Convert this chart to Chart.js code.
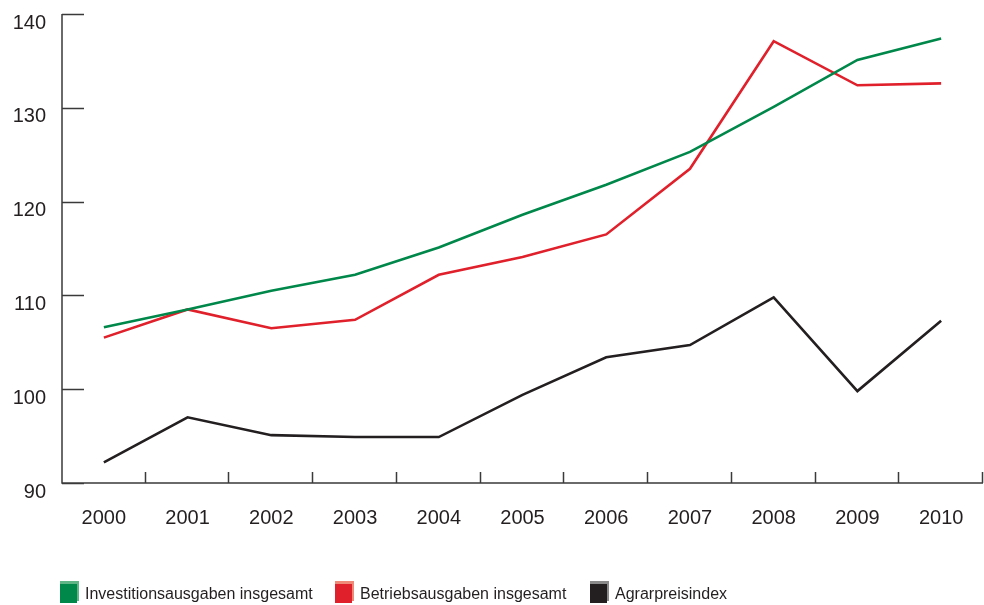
<!DOCTYPE html>
<html>
<head>
<meta charset="utf-8">
<script src="https://cdn.jsdelivr.net/npm/chart.js@4.4.1/dist/chart.umd.min.js"></script>
<style>
  html, body { margin: 0; padding: 0; background: #fff; }
  #wrap { width: 984px; height: 605px; }
</style>
</head>
<body>
<div id="wrap"><canvas id="chart" width="984" height="605"></canvas></div>
<script>
const years = ["2000", "2001", "2002", "2003", "2004", "2005", "2006", "2007", "2008", "2009", "2010"];
const investitionen = [106.6, 108.5, 110.5, 112.2, 115.1, 118.6, 121.8, 125.3, 130.1, 135.1, 137.4];
const betrieb = [105.5, 108.5, 106.5, 107.4, 112.2, 114.1, 116.5, 123.5, 137.1, 132.4, 132.6];
const agrarpreis = [92.2, 97.0, 95.1, 94.9, 94.9, 99.4, 103.4, 104.7, 109.8, 99.8, 107.3];
const yTicks = [90, 100, 110, 120, 130, 140];

const axisColor = "#3a3a3a";
const fontFamily = "'Liberation Sans', Arial, sans-serif";

// inward tick marks + axis lines
const axisPlugin = {
  id: "axisMarks",
  afterDraw(chart) {
    const { ctx, chartArea, scales } = chart;
    ctx.save();
    ctx.strokeStyle = axisColor;
    ctx.lineWidth = 1.5;
    ctx.beginPath();
    ctx.moveTo(chartArea.left, chartArea.top);
    ctx.lineTo(chartArea.left, chartArea.bottom);
    ctx.lineTo(chartArea.right, chartArea.bottom);
    yTicks.forEach((v) => {
      const y = Math.round(scales.y.getPixelForValue(v)) + 0.5;
      ctx.moveTo(chartArea.left, y);
      ctx.lineTo(chartArea.left + 22, y);
    });
    const step = (chartArea.right - chartArea.left) / years.length;
    for (let i = 1; i <= years.length; i++) {
      const x = Math.round(chartArea.left + step * i) - 0.5;
      ctx.moveTo(x, chartArea.bottom);
      ctx.lineTo(x, chartArea.bottom - 11);
    }
    ctx.stroke();
    ctx.restore();
  },
};

// legend at the bottom, boxes with a light top edge
const legendPlugin = {
  id: "bottomLegend",
  afterDraw(chart) {
    const { ctx } = chart;
    const starts = [60, 335, 590];
    ctx.save();
    ctx.font = "16px " + fontFamily;
    ctx.textBaseline = "middle";
    chart.data.datasets.forEach((ds, i) => {
      const x = starts[i];
      ctx.fillStyle = ds.borderColor;
      ctx.fillRect(x, 583, 17, 20);
      ctx.fillStyle = ds.edgeColor;
      ctx.fillRect(x, 581, 19, 3);
      ctx.fillRect(x + 17, 581, 2, 20);
      ctx.fillStyle = "#231f20";
      ctx.fillText(ds.label, x + 25, 595);
    });
    ctx.restore();
  },
};

new Chart(document.getElementById("chart"), {
  type: "line",
  data: {
    labels: years,
    datasets: [
      { label: "Investitionsausgaben insgesamt", data: investitionen, borderColor: "#00874a", edgeColor: "#5fb585" },
      { label: "Betriebsausgaben insgesamt", data: betrieb, borderColor: "#e0202b", edgeColor: "#ef8a78" },
      { label: "Agrarpreisindex", data: agrarpreis, borderColor: "#231f20", edgeColor: "#8a8a8a" },
    ].map((d) => ({ ...d, borderWidth: 2.6, pointRadius: 0, tension: 0, fill: false })),
  },
  options: {
    responsive: false,
    animation: false,
    layout: { padding: { top: 14, right: 1, left: 0, bottom: 0 } },
    plugins: { legend: { display: false }, tooltip: { enabled: false } },
    scales: {
      x: {
        offset: true,
        grid: { display: false, drawTicks: false },
        border: { display: false },
        ticks: { color: "#231f20", font: { size: 20, family: fontFamily }, padding: 23, maxRotation: 0 },
        afterFit: (s) => { s.height = 122; s.paddingLeft = 0; s.paddingRight = 0; },
      },
      y: {
        min: 90,
        max: 140,
        afterBuildTicks: (s) => { s.ticks = yTicks.map((v) => ({ value: v })); },
        grid: { display: false, drawTicks: false },
        border: { display: false },
        ticks: { color: "#231f20", font: { size: 20, family: fontFamily }, padding: 16, labelOffset: 9 },
        afterFit: (s) => { s.width = 62; s.paddingTop = 0; s.paddingBottom = 0; },
      },
    },
  },
  plugins: [axisPlugin, legendPlugin],
});
</script>
</body>
</html>
